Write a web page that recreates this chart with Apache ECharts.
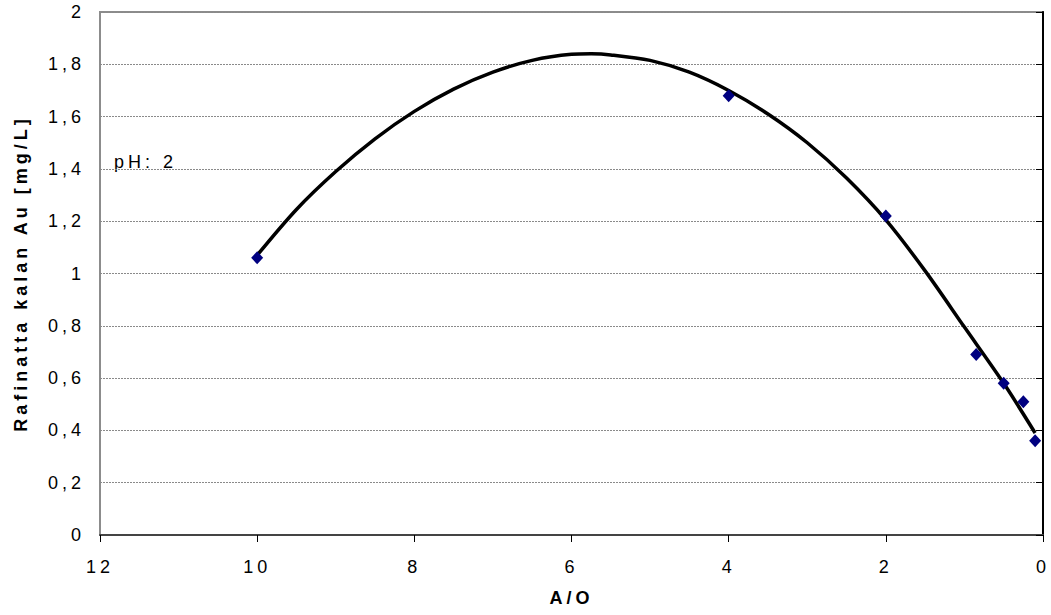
<!DOCTYPE html>
<html>
<head>
<meta charset="utf-8">
<script src="https://cdn.jsdelivr.net/npm/echarts@6/dist/echarts.min.js"></script>
<style>
  html, body { margin: 0; padding: 0; background: #fff; }
  #chart { width: 1051px; height: 615px; }
  #chart text { letter-spacing: 4px; }
</style>
</head>
<body>
<div id="chart"></div>
<script>
// Measured points (A/O ratio vs Au remaining in raffinate)
const aoValues = [10, 4, 2, 0.85, 0.5, 0.25, 0.1];
const auValues = [1.06, 1.68, 1.22, 0.69, 0.58, 0.51, 0.36];

// Trend curve
const trendX = [10, 9.5, 9, 8.5, 8, 7.5, 7, 6.5, 6, 5.75, 5.5, 5, 4.5, 4, 3.5, 3, 2.5, 2, 1.5, 1, 0.5, 0.1];
const trendY = [1.07, 1.245, 1.39, 1.515, 1.62, 1.705, 1.77, 1.815, 1.838, 1.84, 1.836, 1.815, 1.77, 1.70, 1.61, 1.50, 1.365, 1.205, 1.01, 0.795, 0.58, 0.39];

// Axis settings
const xTicks = [0, 2, 4, 6, 8, 10, 12];
const yTicks = [0, 0.2, 0.4, 0.6, 0.8, 1, 1.2, 1.4, 1.6, 1.8, 2];

const xTitle = 'A/O';
const yTitle = 'Rafinatta kalan Au [mg/L]';
const noteText = 'pH: 2';

const chart = echarts.init(document.getElementById('chart'), null, { renderer: 'svg' });

const font = 'Liberation Sans, Arial, sans-serif';

chart.setOption({
  animation: false,
  backgroundColor: '#ffffff',
  grid: {
    left: 100, right: 7, top: 12, bottom: 80,
    show: true, borderColor: '#8c8c8c', borderWidth: 2, backgroundColor: 'transparent'
  },
  xAxis: {
    type: 'value',
    inverse: true,
    min: xTicks[0], max: xTicks[xTicks.length - 1], interval: 2,
    name: xTitle,
    nameLocation: 'middle',
    nameGap: 54,
    nameTextStyle: { fontFamily: font, fontSize: 18, fontWeight: 'bold', color: '#000' },
    axisLine: { show: true, lineStyle: { color: '#444', width: 2 } },
    axisTick: { show: true, length: 7, lineStyle: { color: '#000', width: 1 } },
    axisLabel: { margin: 23, fontFamily: font, fontSize: 18, color: '#000' },
    splitLine: { show: false }
  },
  yAxis: {
    type: 'value',
    min: yTicks[0], max: yTicks[yTicks.length - 1], interval: 0.2,
    name: yTitle,
    nameLocation: 'middle',
    nameGap: 70,
    nameTextStyle: { fontFamily: font, fontSize: 18, fontWeight: 'bold', color: '#000' },
    axisLine: { show: true, lineStyle: { color: '#000', width: 2 } },
    axisTick: { show: true, length: 7, lineStyle: { color: '#000', width: 1 } },
    axisLabel: {
      margin: 15, fontFamily: font, fontSize: 18, color: '#000',
      formatter: v => String(Math.round(v * 10) / 10).replace('.', ',')
    },
    splitLine: { show: true, lineStyle: { color: '#8a8a8a', width: 1, type: [2, 1] } }
  },
  graphic: [{
    type: 'text',
    left: 114, top: 153,
    style: { text: noteText, fontFamily: font, fontSize: 18, fill: '#000' }
  }],
  series: [
    {
      type: 'line',
      data: trendX.map((x, i) => [x, trendY[i]]),
      smooth: 0.3,
      showSymbol: false,
      symbol: 'none',
      lineStyle: { color: '#000', width: 3.5 },
      z: 2
    },
    {
      type: 'scatter',
      data: aoValues.map((x, i) => [x, auValues[i]]),
      symbol: 'diamond',
      symbolSize: [12, 13],
      itemStyle: { color: '#000080', opacity: 1 },
      z: 3
    }
  ]
});
</script>
</body>
</html>
